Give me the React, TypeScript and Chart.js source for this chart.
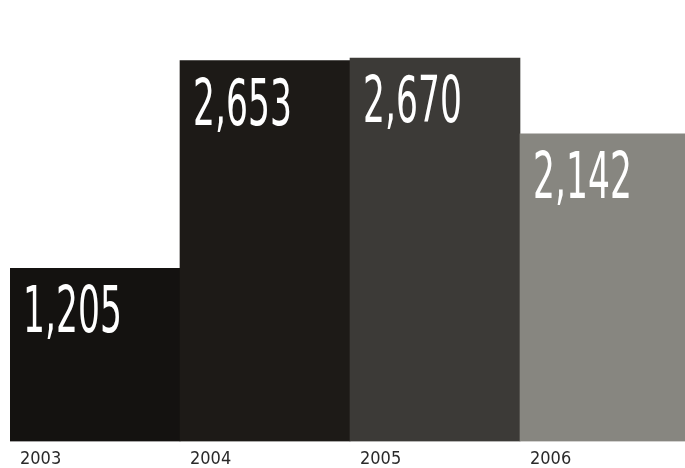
import React, { useEffect, useRef } from "react";
import { Chart, registerables } from "chart.js";

Chart.register(...registerables);

const categories = ["2003", "2004", "2005", "2006"];
const salesValues = [1205, 2653, 2670, 2142];
const barColors = ["#141210", "#1d1a17", "#3c3a37", "#878680"];

const valueLabelPlugin = {
  id: "valueLabels",
  afterDatasetsDraw(chart: any) {
    const ctx = chart.ctx;
    const meta = chart.getDatasetMeta(0);
    const data = chart.data.datasets[0].data as number[];
    ctx.save();
    ctx.fillStyle = "#ffffff";
    ctx.font = "64px 'DejaVu Sans Condensed', 'DejaVu Sans', sans-serif";
    ctx.textBaseline = "alphabetic";
    ctx.textAlign = "left";
    meta.data.forEach((bar: any, i: number) => {
      const left = bar.x - bar.width / 2;
      ctx.save();
      ctx.translate(left + 13, bar.y + 64);
      ctx.scale(0.6, 1);
      ctx.fillText(data[i].toLocaleString("en-US"), 0, 0);
      ctx.restore();
    });
    ctx.restore();
  },
};

export default function App() {
  const canvasRef = useRef<HTMLCanvasElement | null>(null);

  useEffect(() => {
    if (!canvasRef.current) return;
    const chart = new Chart(canvasRef.current, {
      type: "bar",
      data: {
        labels: categories,
        datasets: [
          {
            data: salesValues,
            backgroundColor: barColors,
            borderWidth: 0,
            barPercentage: 1,
            categoryPercentage: 1,
          },
        ],
      },
      options: {
        responsive: false,
        animation: false,
        layout: { padding: { left: 10, right: 0, top: 0, bottom: 0 } },
        plugins: {
          legend: { display: false },
          tooltip: { enabled: false },
          title: { display: false },
        },
        scales: {
          x: {
            grid: { display: false, drawTicks: false },
            border: { display: false },
            ticks: {
              align: "start",
              labelOffset: -75,
              padding: 7,
              color: "#2a2a2a",
              font: { family: "'DejaVu Sans Condensed', 'DejaVu Sans', sans-serif", size: 18 },
            },
          },
          y: {
            display: false,
            min: 0,
            max: 3075,
          },
        },
      },
      plugins: [valueLabelPlugin],
    });
    return () => chart.destroy();
  }, []);

  return (
    <div
      style={{
        position: "fixed",
        left: 0,
        top: 0,
        width: 685,
        height: 468,
        overflow: "hidden",
        background: "#ffffff",
      }}
    >
      <canvas ref={canvasRef} width={690} height={477} style={{ display: "block" }} />
    </div>
  );
}
